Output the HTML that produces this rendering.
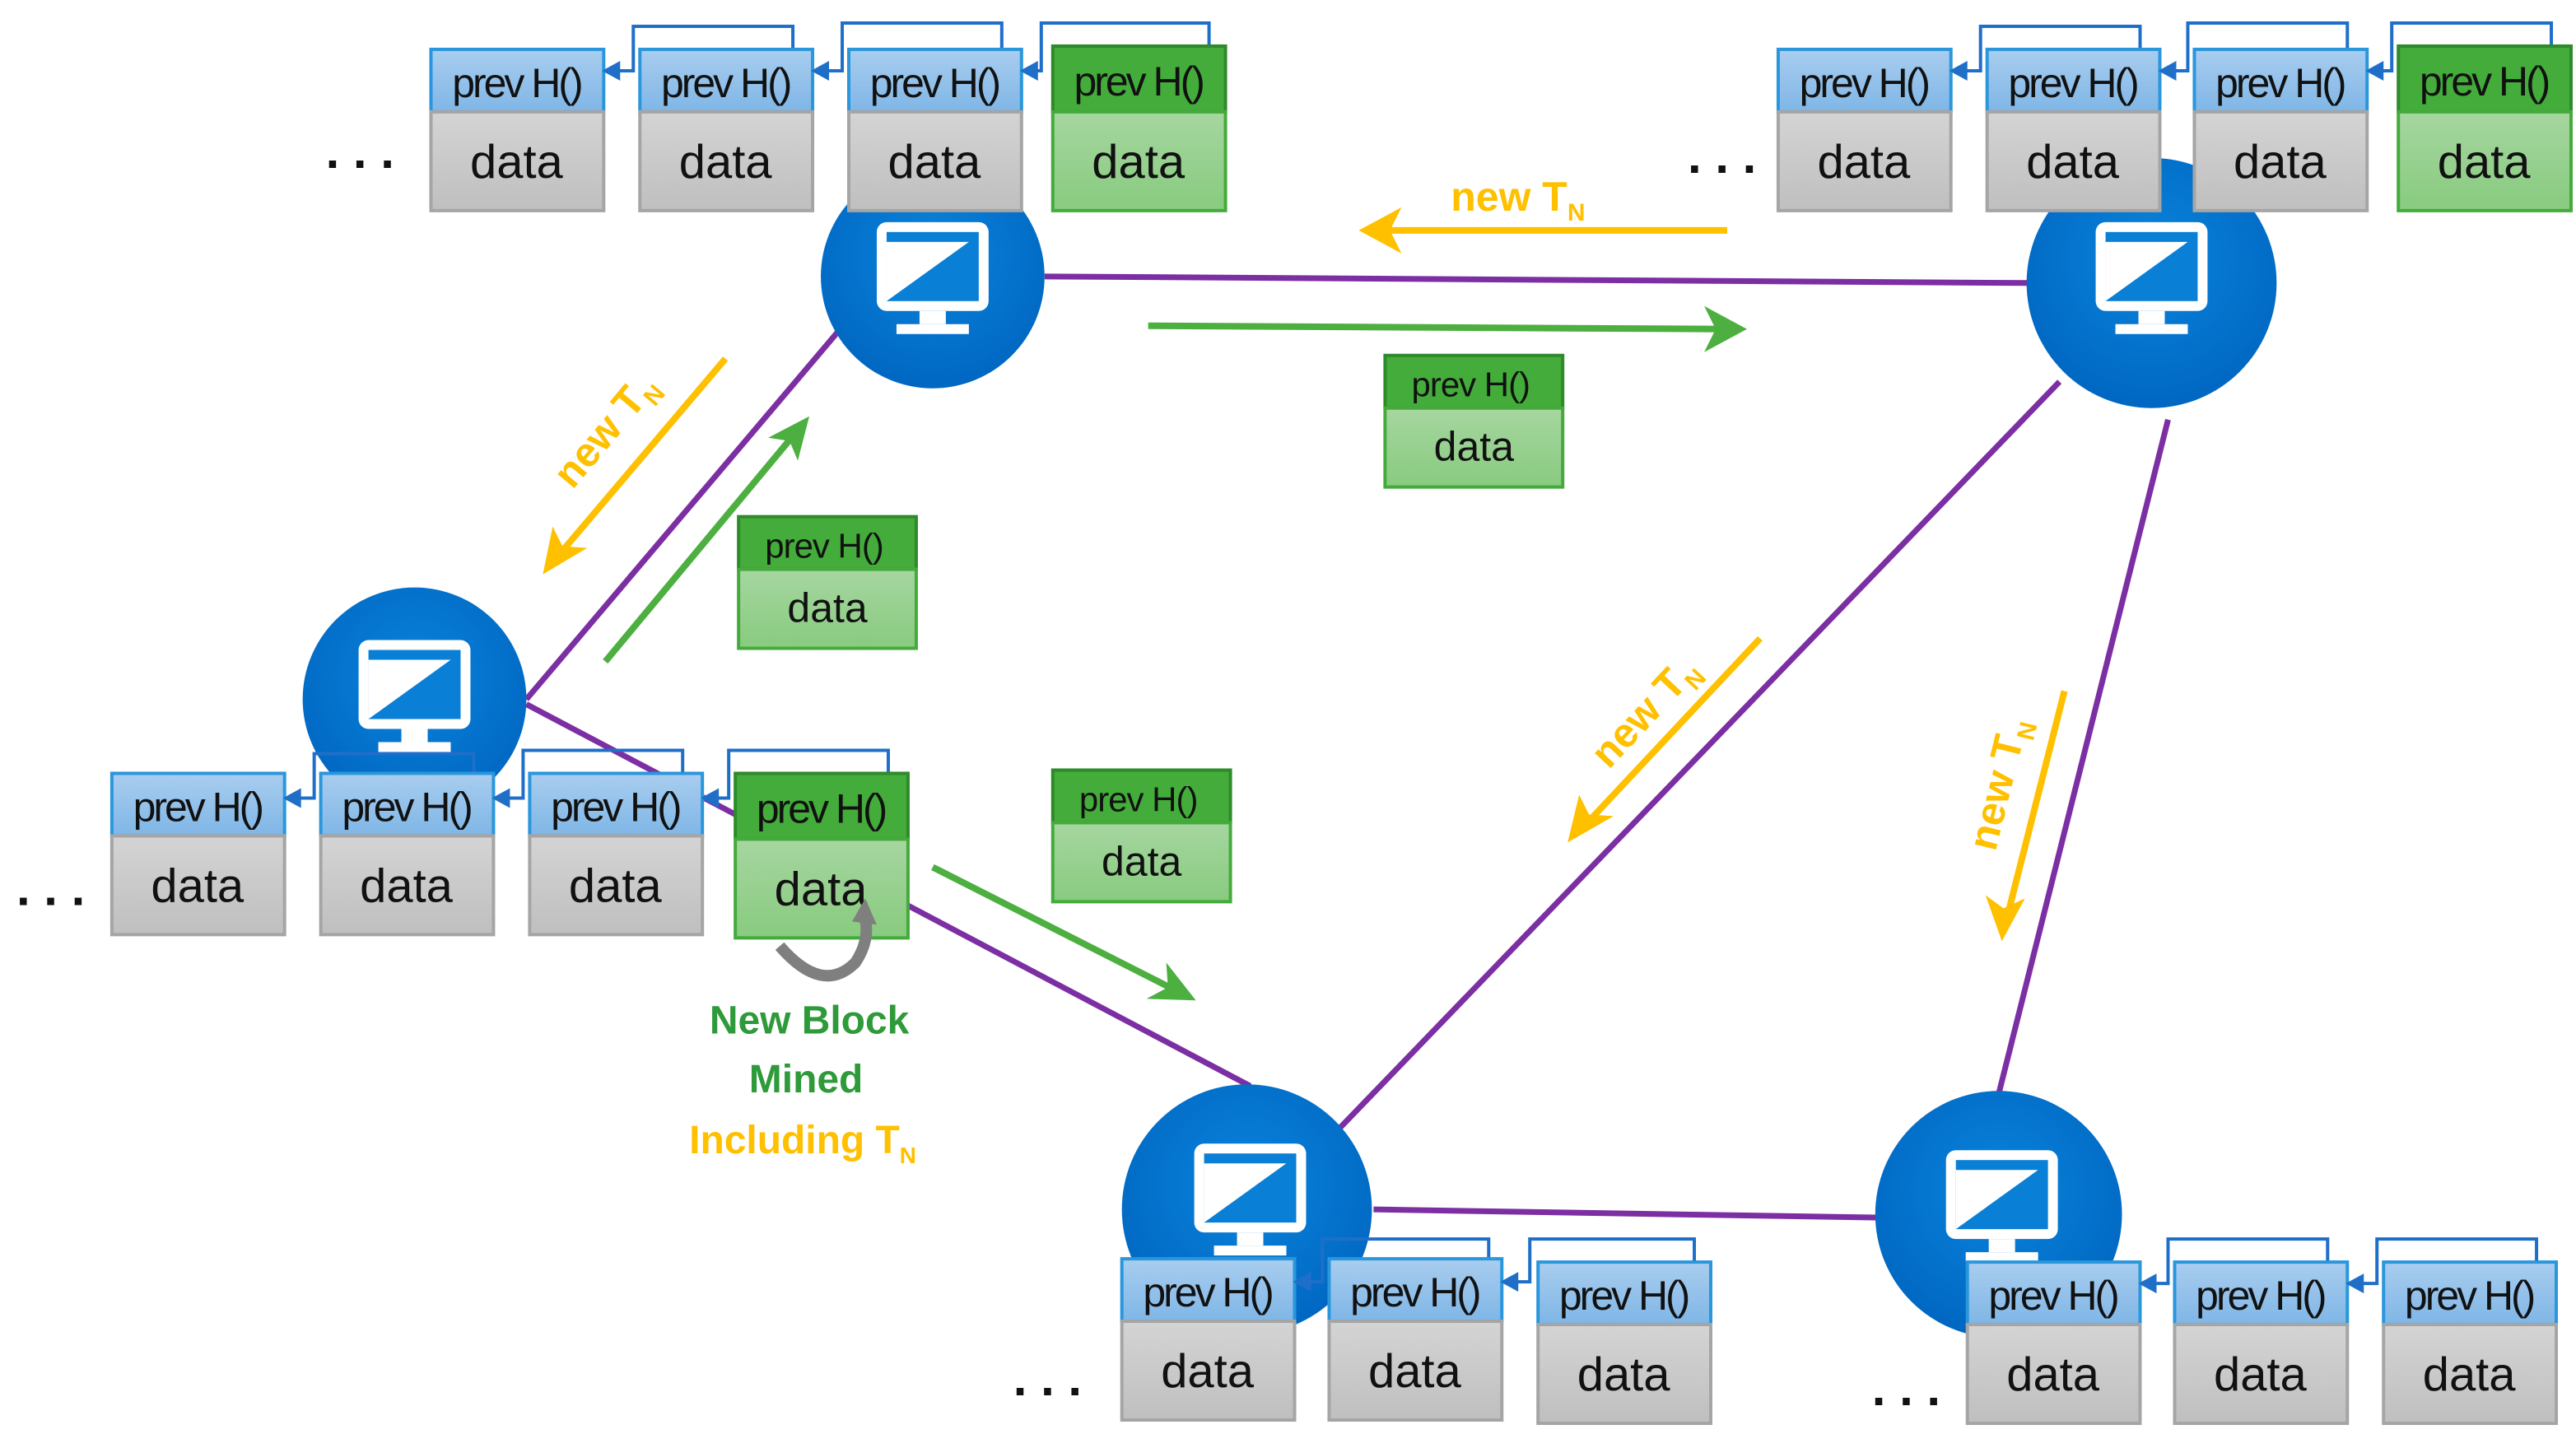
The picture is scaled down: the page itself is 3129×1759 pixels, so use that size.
<!DOCTYPE html>
<html><head><meta charset="utf-8"><style>
html,body{margin:0;padding:0;background:#fff}
svg{display:block}
.h{font-family:"Liberation Sans",sans-serif;font-size:25px;text-anchor:middle;fill:#111;letter-spacing:-1.5px}
.d{font-family:"Liberation Sans",sans-serif;font-size:29px;text-anchor:middle;fill:#111}
.hs{font-family:"Liberation Sans",sans-serif;font-size:21px;text-anchor:middle;fill:#111;letter-spacing:-0.5px}
.ds{font-family:"Liberation Sans",sans-serif;font-size:25px;text-anchor:middle;fill:#111}
.y{font-family:"Liberation Sans",sans-serif;font-size:25px;fill:#ffc000;font-weight:bold}
.dots{font-family:"Liberation Sans",sans-serif;font-size:30px;font-weight:bold;fill:#111}
</style></head><body>
<svg width="3129" height="1759" viewBox="0 0 1566 880" preserveAspectRatio="none" xmlns="http://www.w3.org/2000/svg">
<defs>
<linearGradient id="bh" x1="0" y1="0" x2="0" y2="1"><stop offset="0" stop-color="#a9cdef"/><stop offset="1" stop-color="#7fb6e6"/></linearGradient>
<linearGradient id="gd" x1="0" y1="0" x2="0" y2="1"><stop offset="0" stop-color="#d4d4d4"/><stop offset="1" stop-color="#bfbfbf"/></linearGradient>
<linearGradient id="gg" x1="0" y1="0" x2="0" y2="1"><stop offset="0" stop-color="#a6d6a0"/><stop offset="1" stop-color="#88cb7f"/></linearGradient>
<radialGradient id="cb" cx="0.5" cy="0.4" r="0.6"><stop offset="0" stop-color="#0a84dc"/><stop offset="1" stop-color="#0067c2"/></radialGradient>
<g id="blue">
<rect x="0" y="0" width="105" height="38" fill="url(#bh)" stroke="#2a96dc" stroke-width="2"/>
<rect x="0" y="38" width="105" height="60" fill="url(#gd)" stroke="#a5a5a5" stroke-width="2"/>
<text x="52" y="29" class="h">prev H()</text><text x="52" y="78" class="d">data</text>
</g>
<g id="green">
<rect x="0" y="0" width="105" height="40" fill="#43ac3a" stroke="#2e8a2a" stroke-width="2"/>
<rect x="0" y="40" width="105" height="60" fill="url(#gg)" stroke="#45aa3c" stroke-width="2"/>
<text x="52" y="30" class="h">prev H()</text><text x="52" y="80" class="d">data</text>
</g>
<g id="sgreen">
<rect x="0" y="0" width="108" height="32" fill="#43ac3a" stroke="#2e8a2a" stroke-width="2"/>
<rect x="0" y="32" width="108" height="48" fill="url(#gg)" stroke="#45aa3c" stroke-width="2"/>
<text x="52" y="25" class="hs">prev H()</text><text x="54" y="64" class="ds">data</text>
</g>
<g id="pc">
<rect x="-34" y="-33" width="68" height="54" rx="6" fill="#fff"/>
<rect x="-28" y="-27" width="56" height="42" fill="#0a7fd6"/>
<polygon points="-28,15 -28,-21 22,-21" fill="#fff"/>
<rect x="-8" y="21" width="16" height="8" fill="#fff"/>
<rect x="-22" y="29" width="44" height="6" fill="#fff"/>
</g>
</defs>

<g stroke="#7c2ea3" stroke-width="3.5" fill="none">
<line x1="635" y1="168" x2="1233" y2="172"/>
<line x1="515" y1="195" x2="320" y2="425"/>
<line x1="320" y1="428" x2="760" y2="660"/>
<line x1="1252" y1="232" x2="815" y2="685"/>
<line x1="1318" y1="255" x2="1215" y2="665"/>
<line x1="835" y1="735" x2="1143" y2="740"/>
</g>

<circle cx="567" cy="168" r="68" fill="url(#cb)"/><use href="#pc" x="567" y="168"/>
<circle cx="1308" cy="172" r="76" fill="url(#cb)"/><use href="#pc" x="1308" y="168"/>
<circle cx="252" cy="425" r="68" fill="url(#cb)"/><use href="#pc" x="252" y="422"/>
<circle cx="758" cy="735" r="76" fill="url(#cb)"/><use href="#pc" x="760" y="728"/>
<circle cx="1215" cy="738" r="75" fill="url(#cb)"/><use href="#pc" x="1217" y="732"/>

<g stroke-width="4" fill="none">
<line x1="1050" y1="140" x2="840" y2="140" stroke="#ffc000"/>
<line x1="698" y1="198" x2="1048" y2="200" stroke="#4caf3f"/>
<line x1="441" y1="218" x2="340" y2="337" stroke="#ffc000"/>
<line x1="368" y1="402" x2="482" y2="265" stroke="#4caf3f"/>
<line x1="567" y1="527" x2="713" y2="601" stroke="#4caf3f"/>
<line x1="1070" y1="388" x2="965" y2="500" stroke="#ffc000"/>
<line x1="1255" y1="420" x2="1220" y2="558" stroke="#ffc000"/>
</g>
<polygon points="826,140 852,126 845,140 852,154" fill="#ffc000"/>
<polygon points="1062,200 1036,186 1043,200 1036,214" fill="#4caf3f"/>
<polygon points="330,349 336,320 342,332 357,333" fill="#ffc000"/>
<polygon points="492,253 467,266 480,268 485,280" fill="#4caf3f"/>
<polygon points="727,608 709,585 710,600 697,607" fill="#4caf3f"/>
<polygon points="953,512 960,483 966,495 981,496" fill="#ffc000"/>
<polygon points="1217,572 1207,544 1218,552 1231,546" fill="#ffc000"/>

<text x="882" y="128" class="y">new T<tspan font-size="15" dy="6">N</tspan></text>
<text transform="translate(348,298) rotate(-50)" class="y">new T<tspan font-size="15" dy="6">N</tspan></text>
<text transform="translate(978,468) rotate(-47)" class="y">new T<tspan font-size="15" dy="6">N</tspan></text>
<text transform="translate(1213,518) rotate(-76)" class="y">new T<tspan font-size="15" dy="6">N</tspan></text>

<g stroke="#1f6fc9" stroke-width="2" fill="none">
<path d="M482,60 V16 H385 V43 H375"/><path d="M609,60 V14 H512 V43 H502"/><path d="M735,60 V14 H633 V43 H626"/>
<path d="M1301,60 V16 H1204 V43 H1194"/><path d="M1427,60 V14 H1330 V43 H1320"/><path d="M1551,60 V14 H1454 V43 H1446"/>
<path d="M288,500 V458 H191 V485 H181"/><path d="M415,500 V456 H318 V485 H308"/><path d="M540,500 V456 H443 V485 H433"/>
<path d="M905,795 V753 H804 V779 H795"/><path d="M1030,795 V753 H930 V779 H921"/>
<path d="M1415,797 V753 H1318 V780 H1310"/><path d="M1542,797 V753 H1445 V780 H1436"/>
</g>

<use href="#blue" x="262" y="30"/><use href="#blue" x="389" y="30"/><use href="#blue" x="516" y="30"/><use href="#green" x="640" y="28"/>
<use href="#blue" x="1081" y="30"/><use href="#blue" x="1208" y="30"/><use href="#blue" x="1334" y="30"/><use href="#green" x="1458" y="28"/>
<use href="#blue" x="68" y="470"/><use href="#blue" x="195" y="470"/><use href="#blue" x="322" y="470"/><use href="#green" x="447" y="470"/>
<use href="#blue" x="682" y="765"/><use href="#blue" x="808" y="765"/><use href="#blue" x="935" y="767"/>
<use href="#blue" x="1196" y="767"/><use href="#blue" x="1322" y="767"/><use href="#blue" x="1449" y="767"/>

<g fill="#1f6fc9">
<polygon points="366,43 377,37 377,49"/><polygon points="493,43 504,37 504,49"/><polygon points="620,43 631,37 631,49"/>
<polygon points="1185,43 1196,37 1196,49"/><polygon points="1312,43 1323,37 1323,49"/><polygon points="1438,43 1449,37 1449,49"/>
<polygon points="172,485 183,479 183,491"/><polygon points="299,485 310,479 310,491"/><polygon points="426,485 437,479 437,491"/>
<polygon points="786,779 797,773 797,785"/><polygon points="912,779 923,773 923,785"/>
<polygon points="1300,780 1311,774 1311,786"/><polygon points="1426,780 1437,774 1437,786"/>
</g>

<use href="#sgreen" x="842" y="216"/>
<use href="#sgreen" x="449" y="314"/>
<use href="#sgreen" x="640" y="468"/>

<text x="198" y="102" class="dots">. . .</text>
<text x="1026" y="105" class="dots">. . .</text>
<text x="10" y="550" class="dots">. . .</text>
<text x="616" y="848" class="dots">. . .</text>
<text x="1138" y="854" class="dots">. . .</text>

<path d="M474,575 Q500,605 520,585 Q530,570 525,555" stroke="#7f7f7f" stroke-width="7" fill="none"/>
<polygon points="518,560 526,546 533,562" fill="#7f7f7f"/>

<g font-family="Liberation Sans, sans-serif" font-weight="bold" font-size="24" text-anchor="middle">
<text x="492" y="628" fill="#2e9a3a">New Block</text>
<text x="490" y="664" fill="#2e9a3a">Mined</text>
<text x="488" y="701" fill="#ffc000">Including T<tspan font-size="14" dy="6">N</tspan></text>
</g>
</svg>
</body></html>
